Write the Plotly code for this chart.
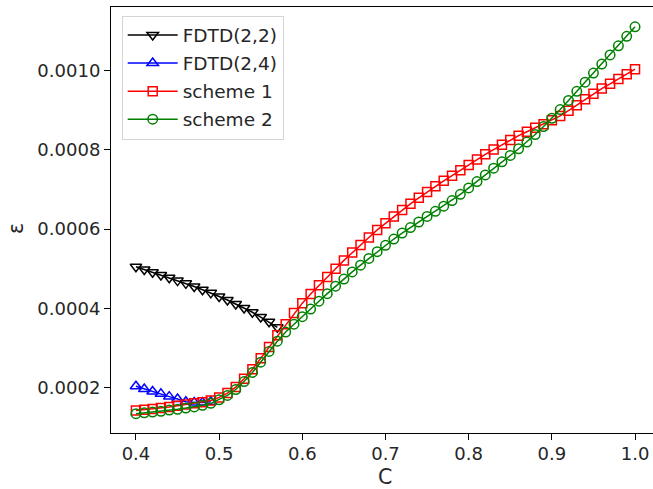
import plotly.graph_objects as go

# Courant number grid
c_all = [0.40, 0.41, 0.42, 0.43, 0.44, 0.45, 0.46, 0.47, 0.48, 0.49,
         0.50, 0.51, 0.52, 0.53, 0.54, 0.55, 0.56, 0.57, 0.58, 0.59,
         0.60, 0.61, 0.62, 0.63, 0.64, 0.65, 0.66, 0.67, 0.68, 0.69,
         0.70, 0.71, 0.72, 0.73, 0.74, 0.75, 0.76, 0.77, 0.78, 0.79,
         0.80, 0.81, 0.82, 0.83, 0.84, 0.85, 0.86, 0.87, 0.88, 0.89,
         0.90, 0.91, 0.92, 0.93, 0.94, 0.95, 0.96, 0.97, 0.98, 0.99,
         1.00]

# FDTD(2,2): stable only up to C = 0.57
c_fdtd22 = c_all[:18]
eps_fdtd22 = [0.000505, 0.000498, 0.000491, 0.000484, 0.000477, 0.000470,
              0.000463, 0.000455, 0.000447, 0.000439, 0.000430, 0.000421,
              0.000411, 0.000401, 0.000390, 0.000378, 0.000366, 0.000352]

# FDTD(2,4): stable only up to C = 0.49
c_fdtd24 = c_all[:10]
eps_fdtd24 = [0.000203, 0.000196, 0.000190, 0.000184, 0.000177,
              0.000171, 0.000164, 0.000162, 0.000162, 0.000164]

eps_scheme1 = [0.000142, 0.000144, 0.000146, 0.000148, 0.000151, 0.000154,
               0.000157, 0.000160, 0.000163, 0.000167, 0.000175, 0.000186,
               0.000201, 0.000222, 0.000246, 0.000274, 0.000302, 0.000332,
               0.000360, 0.000388, 0.000413, 0.000436, 0.000458, 0.000479,
               0.000500, 0.000521, 0.000541, 0.000560, 0.000579, 0.000598,
               0.000615, 0.000632, 0.000648, 0.000664, 0.000679, 0.000694,
               0.000708, 0.000722, 0.000735, 0.000749, 0.000762, 0.000776,
               0.000789, 0.000801, 0.000813, 0.000825, 0.000836, 0.000846,
               0.000856, 0.000865, 0.000875, 0.000886, 0.000899, 0.000913,
               0.000928, 0.000942, 0.000955, 0.000967, 0.000979, 0.000991,
               0.001004]

eps_scheme2 = [0.000134, 0.000136, 0.000138, 0.000140, 0.000143, 0.000145,
               0.000148, 0.000151, 0.000155, 0.000160, 0.000169, 0.000180,
               0.000195, 0.000215, 0.000238, 0.000264, 0.000291, 0.000317,
               0.000340, 0.000360, 0.000379, 0.000398, 0.000418, 0.000437,
               0.000456, 0.000474, 0.000492, 0.000509, 0.000526, 0.000543,
               0.000559, 0.000575, 0.000590, 0.000604, 0.000618, 0.000632,
               0.000645, 0.000658, 0.000672, 0.000688, 0.000704, 0.000720,
               0.000737, 0.000754, 0.000770, 0.000786, 0.000803, 0.000820,
               0.000839, 0.000859, 0.000880, 0.000902, 0.000925, 0.000948,
               0.000971, 0.000994, 0.001017, 0.001040, 0.001063, 0.001087,
               0.001111]

x_ticks = [0.4, 0.5, 0.6, 0.7, 0.8, 0.9, 1.0]
y_ticks = [0.0002, 0.0004, 0.0006, 0.0008, 0.0010]

FONT = "DejaVu Sans"
TICK_FS = 18
LEG_FS = 18.5
LABEL_FS = 20.5
TXT = "#262626"

series = [
    ("FDTD(2,2)", c_fdtd22, eps_fdtd22, "black", "triangle-down-open", 10),
    ("FDTD(2,4)", c_fdtd24, eps_fdtd24, "blue", "triangle-up-open", 10),
    ("scheme 1", c_all, eps_scheme1, "red", "square-open", 9),
    ("scheme 2", c_all, eps_scheme2, "green", "circle-open", 9.5),
]

fig = go.Figure()
for name, xs, ys, col, sym, sz in series:
    fig.add_trace(go.Scatter(
        x=xs, y=ys, name=name, mode="lines+markers",
        legendgroup=name,
        line=dict(color=col, width=1.5),
        marker=dict(symbol=sym, size=sz, color=col,
                    line=dict(color=col, width=1.5)),
    ))

W, H = 653, 489
ML, MR, MT, MB = 111, 0, 7, 56
PW, PH = W - ML - MR, H - MT - MB


def px_x(px):
    return (px - ML) / PW


def px_y(py):
    return (H - MB - py) / PH


fig.update_layout(
    width=W, height=H,
    margin=dict(l=ML, r=MR, t=MT, b=MB, pad=0),
    paper_bgcolor="white", plot_bgcolor="white",
    font=dict(family=FONT, size=TICK_FS, color=TXT),
    showlegend=True,
    legend=dict(
        x=px_x(121.7), y=px_y(15.5),
        xanchor="left", yanchor="top",
        bgcolor="rgba(255,255,255,0.8)",
        bordercolor="#d5d5d5", borderwidth=1,
        font=dict(family=FONT, size=LEG_FS, color=TXT),
        itemwidth=50, tracegroupgap=1,
    ),
    annotations=[
        dict(text="C", xref="paper", yref="paper",
             x=px_x(385), y=px_y(477),
             xanchor="center", yanchor="middle", showarrow=False,
             font=dict(family=FONT, size=LABEL_FS, color=TXT)),
        dict(text="ε", xref="paper", yref="paper",
             x=px_x(16), y=px_y(229),
             xanchor="center", yanchor="middle", showarrow=False,
             textangle=-90,
             font=dict(family=FONT, size=LABEL_FS, color=TXT)),
    ],
)

fig.update_xaxes(
    range=[0.37, 1.0216],
    tickvals=x_ticks, tickformat=".1f",
    ticks="outside", ticklen=6, tickwidth=1.1, tickcolor="black",
    ticklabelstandoff=-2,
    showline=True, linecolor="black", linewidth=1.1, mirror=True,
    showgrid=False, zeroline=False,
    tickfont=dict(family=FONT, size=TICK_FS, color=TXT),
)
fig.update_yaxes(
    range=[0.0000851, 0.001161],
    tickvals=y_ticks, tickformat=".4f",
    ticks="outside", ticklen=6, tickwidth=1.1, tickcolor="black",
    showline=True, linecolor="black", linewidth=1.1, mirror=False,
    showgrid=False, zeroline=False,
    tickfont=dict(family=FONT, size=TICK_FS, color=TXT),
)

fig.write_html("out.html")
